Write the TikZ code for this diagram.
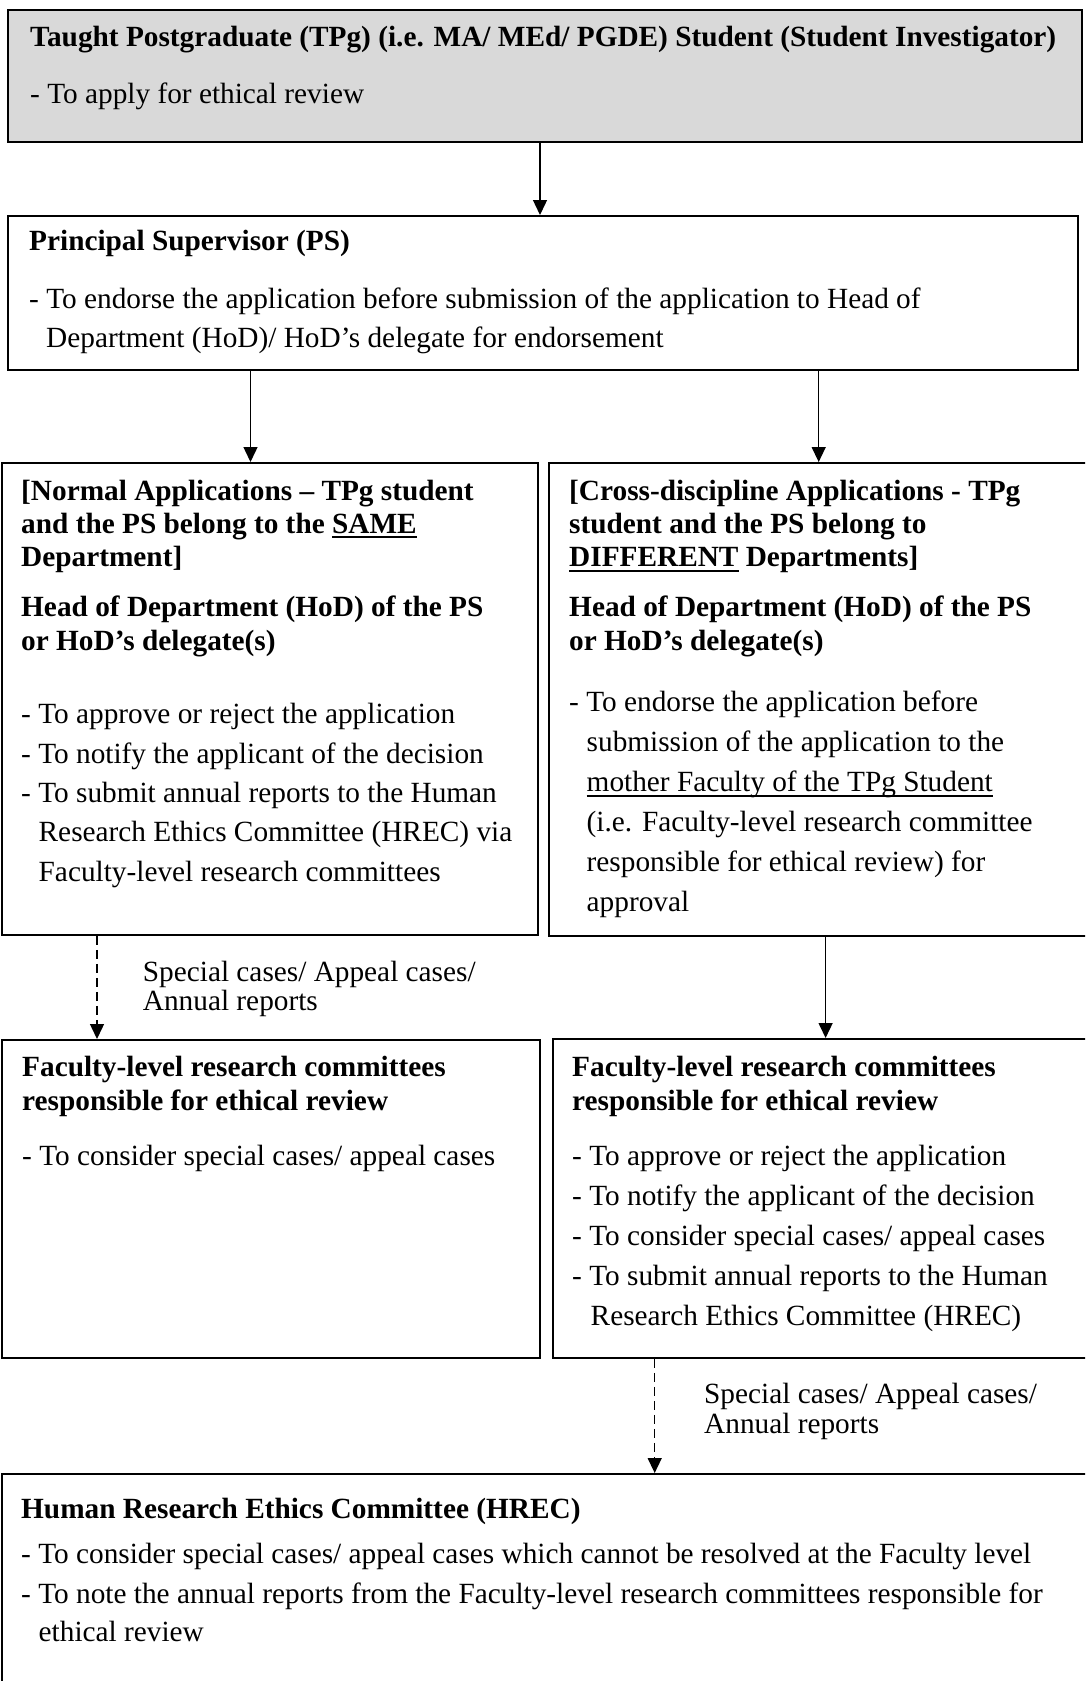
\documentclass[tikz,border=0pt]{standalone}
\usepackage{fontspec}
\setmainfont{Liberation Serif}
\usetikzlibrary{arrows.meta}
\definecolor{boxgray}{HTML}{D9D9D9}
\newsavebox\ulbox
\newcommand\myul[2][1.4pt]{\sbox\ulbox{#2}\rlap{\rule[-5pt]{\wd\ulbox}{#1}}\usebox\ulbox}
\tikzset{
  box/.style={draw=black, line width=1.8pt, rectangle, anchor=north west, inner sep=0pt},
  txt/.style={anchor=base west, inner sep=0pt, font=\fontsize{29.3}{34}\selectfont},
  btxt/.style={txt, font=\fontsize{29.3}{34}\selectfont\bfseries},
  arr/.style={line width=1.4pt, -{Triangle[width=14pt,length=15pt]}},
  darr/.style={arr, dash pattern=on 9pt off 5pt}
}
\begin{document}
\begin{tikzpicture}[x=1pt,y=-1pt]
\useasboundingbox (0,0) rectangle (1085,1681);
\clip (0,0) rectangle (1085,1681);
% boxes
\node[box, fill=boxgray, minimum width=1074pt, minimum height=132pt] (b1) at (7,9) {};
\node[box, minimum width=1070pt, minimum height=154pt] (b2) at (7,215) {};
\node[box, minimum width=536pt, minimum height=472pt] (b3l) at (1,462) {};
\node[box, minimum width=560pt, minimum height=473pt] (b3r) at (548,462) {};
\node[box, minimum width=538pt, minimum height=318pt] (b4l) at (1,1039) {};
\node[box, minimum width=560pt, minimum height=319pt] (b4r) at (552,1038) {};
\node[box, minimum width=1110pt, minimum height=260pt] (b5) at (1,1473) {};
% x positions of connectors
\coordinate (xa) at (540,0);
\coordinate (xb) at (250.5,0);
\coordinate (xc) at (818.7,0);
\coordinate (xd) at (97,0);
\coordinate (xe) at (825.6,0);
\coordinate (xf) at (654.7,0);
\draw[arr] (b1.south -| xa) -- (b2.north -| xa);
\draw[arr] (b2.south -| xb) -- (b3l.north -| xb);
\draw[arr] (b2.south -| xc) -- (b3r.north -| xc);
\draw[darr] (b3l.south -| xd) -- (b4l.north -| xd);
\draw[arr] (b3r.south -| xe) -- (b4r.north -| xe);
\draw[darr] (b4r.south -| xf) -- (b5.north -| xf);
% box 1
\node[btxt] (t11) at (30,46) {Taught Postgraduate (TPg) (i.e. MA/ MEd/ PGDE) Student (Student Investigator)};
\node[txt] (t12) at (30,103) {- To apply for ethical review};
% box 2
\node[btxt] (t21) at (29,250) {Principal Supervisor (PS)};
\node[txt] (t22) at (29,308) {- To endorse the application before submission of the application to Head of};
\node[txt] (t23) at (46,347) {Department (HoD)/ HoD’s delegate for endorsement};
% box 3 left
\node[btxt] (l31) at (21,500) {[Normal Applications -- TPg student};
\node[btxt] (l32) at (21,533) {and the PS belong to the \myul[2.2pt]{SAME}};
\node[btxt] (l33) at (21,566.7) {Department]};
\node[btxt] (l34) at (21,616.7) {Head of Department (HoD) of the PS};
\node[btxt] (l35) at (21,650) {or HoD’s delegate(s)};
\node[txt] (l36) at (21,723) {- To approve or reject the application};
\node[txt] (l37) at (21,763) {- To notify the applicant of the decision};
\node[txt] (l38) at (21,802.7) {- To submit annual reports to the Human};
\node[txt] (l39) at (38.5,841.7) {Research Ethics Committee (HREC) via};
\node[txt] (l310) at (38.5,881.7) {Faculty-level research committees};
% box 3 right
\node[btxt] (r31) at (569,500) {[Cross-discipline Applications - TPg};
\node[btxt] (r32) at (569,533) {student and the PS belong to};
\node[btxt] (r33) at (569,566.7) {\myul[2.2pt]{DIFFERENT} Departments]};
\node[btxt] (r34) at (569,616.7) {Head of Department (HoD) of the PS};
\node[btxt] (r35) at (569,650) {or HoD’s delegate(s)};
\node[txt] (r36) at (569,711.7) {- To endorse the application before};
\node[txt] (r37) at (586.5,751.7) {submission of the application to the};
\node[txt] (r38) at (586.5,791.7) {\myul{mother Faculty of the TPg Student}};
\node[txt] (r39) at (586.5,831.7) {(i.e. Faculty-level research committee};
\node[txt] (r310) at (586.5,871.7) {responsible for ethical review) for};
\node[txt] (r311) at (586.5,911.7) {approval};
% label 1
\node[txt] (la1) at (142.7,981.7) {Special cases/ Appeal cases/};
\node[txt] (la2) at (142.7,1010.7) {Annual reports};
% box 4 left
\node[btxt] (l41) at (22,1076.7) {Faculty-level research committees};
\node[btxt] (l42) at (22,1110) {responsible for ethical review};
\node[txt] (l43) at (22,1165) {- To consider special cases/ appeal cases};
% box 4 right
\node[btxt] (r41) at (572,1076.7) {Faculty-level research committees};
\node[btxt] (r42) at (572,1110) {responsible for ethical review};
\node[txt] (r43) at (572,1165) {- To approve or reject the application};
\node[txt] (r44) at (572,1205) {- To notify the applicant of the decision};
\node[txt] (r45) at (572,1245) {- To consider special cases/ appeal cases};
\node[txt] (r46) at (572,1285) {- To submit annual reports to the Human};
\node[txt] (r47) at (590.5,1325) {Research Ethics Committee (HREC)};
% label 2
\node[txt] (lb1) at (704,1403) {Special cases/ Appeal cases/};
\node[txt] (lb2) at (704,1433) {Annual reports};
% box 5
\node[btxt] (t51) at (21,1518) {Human Research Ethics Committee (HREC)};
\node[txt] (t52) at (21,1563) {- To consider special cases/ appeal cases which cannot be resolved at the Faculty level};
\node[txt] (t53) at (21,1603) {- To note the annual reports from the Faculty-level research committees responsible for};
\node[txt] (t54) at (38.5,1641.7) {ethical review};
\end{tikzpicture}
\end{document}
